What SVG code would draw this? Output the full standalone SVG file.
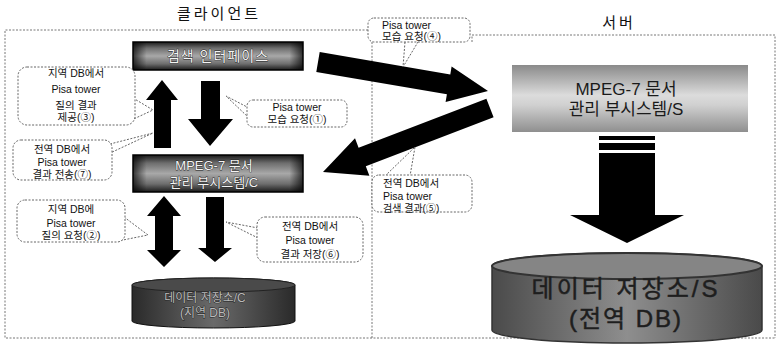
<svg xmlns="http://www.w3.org/2000/svg" width="777" height="349" viewBox="0 0 777 349">
<defs>
<linearGradient id="gBox" x1="0" y1="0" x2="0" y2="1">
<stop offset="0" stop-color="#1a1a1a"/><stop offset="0.22" stop-color="#6e6e6e"/><stop offset="0.5" stop-color="#a8a8a8"/><stop offset="0.78" stop-color="#6e6e6e"/><stop offset="1" stop-color="#1a1a1a"/>
</linearGradient>
<linearGradient id="gBoxH" x1="0" y1="0" x2="1" y2="0">
<stop offset="0" stop-color="#000" stop-opacity="0.7"/><stop offset="0.08" stop-color="#000" stop-opacity="0"/><stop offset="0.92" stop-color="#000" stop-opacity="0"/><stop offset="1" stop-color="#000" stop-opacity="0.7"/>
</linearGradient>
<linearGradient id="gSrv" x1="0" y1="0" x2="0" y2="1">
<stop offset="0" stop-color="#8a8a8a"/><stop offset="0.45" stop-color="#dcdcdc"/><stop offset="0.6" stop-color="#d0d0d0"/><stop offset="1" stop-color="#8f8f8f"/>
</linearGradient>
<linearGradient id="gCylC" x1="0" y1="0" x2="1" y2="0">
<stop offset="0" stop-color="#2a2a2a"/><stop offset="0.5" stop-color="#6a6a6a"/><stop offset="1" stop-color="#2a2a2a"/>
</linearGradient>
<linearGradient id="gCylS" x1="0" y1="0" x2="1" y2="0">
<stop offset="0" stop-color="#4a4a4a"/><stop offset="0.5" stop-color="#8e8e8e"/><stop offset="1" stop-color="#4a4a4a"/>
</linearGradient>
<style>
.bound{fill:none;stroke:#777;stroke-width:1;stroke-dasharray:2 1.5}
.co{fill:#fff;stroke:#666;stroke-width:1;stroke-dasharray:2 1.5}
.tail{fill:none;stroke:#666;stroke-width:1;stroke-dasharray:2 1.5}
.ct{font-family:"Liberation Sans","Noto Sans CJK KR",sans-serif;font-size:10.5px;fill:#111;text-anchor:middle}
.ctl{font-family:"Liberation Sans","Noto Sans CJK KR",sans-serif;font-size:10.5px;fill:#111}
.title{font-family:"Noto Sans CJK KR",sans-serif;font-size:15px;fill:#111;text-anchor:middle;letter-spacing:3px}
.bt{font-family:"Liberation Sans","Noto Sans CJK KR",sans-serif;font-size:13px;fill:#f4f4f4;stroke:#222;stroke-width:0.8;paint-order:stroke;text-anchor:middle}
.st{font-family:"Liberation Sans","Noto Sans CJK KR",sans-serif;font-size:17px;fill:#1a1a1a;text-anchor:middle}
.dt{font-family:"Liberation Sans","Noto Sans CJK KR",sans-serif;font-size:24px;fill:#1e1e1e;stroke:#1e1e1e;stroke-width:0.5;text-anchor:middle}
.arr{fill:#000}
</style>
</defs>
<rect width="777" height="349" fill="#fff"/>

<g id="boundaries">
<polyline class="bound" points="368,30 5,30 5,338 775,338"/>
<line class="bound" x1="372" y1="42" x2="372" y2="338"/>
<polyline class="bound" points="472,42 472,35 775,35 775,338"/>
</g>

<g id="titles">
<text class="title" x="219" y="19">클라이언트</text>
<text class="title" x="619" y="28">서버</text>
</g>

<g id="connectors">
<polygon class="arr" points="162,80 178,100 171,100 171,148 154,148 154,100 146,100"/>
<polygon class="arr" points="201,81 220,81 220,119 233,119 210,146 188,119 201,119"/>
<polygon class="arr" points="164,196 181,216 173,216 173,250 181,250 164,267 147,250 155,250 155,216 147,216"/>
<polygon class="arr" points="206,197 224,197 224,248 232,248 215,262 198,248 206,248"/>
<polygon class="arr" points="319.7,52.1 450.3,74.4 451.6,66.6 488,91 445.6,102 446.9,94.2 316.3,71.9"/>
<polygon class="arr" points="486.4,98.7 358.6,147.7 355,138.3 323,172 369.4,175.7 365.8,166.3 493.6,117.3"/>
<rect class="arr" x="599" y="136" width="56" height="4"/>
<rect class="arr" x="599" y="143" width="56" height="7"/>
<polygon class="arr" points="599,153 655,153 655,215 684,215 627,243 570,215 599,215"/>
</g>

<g id="node-search">
<rect x="133" y="42" width="170" height="28" fill="url(#gBox)" stroke="#000" stroke-width="1.5"/>
<rect x="133" y="42" width="170" height="28" fill="url(#gBoxH)"/>
<text class="bt" x="218" y="61" style="font-size:14px;letter-spacing:1px">검색 인터페이스</text>
</g>

<g id="node-mpeg-c">
<rect x="133" y="155" width="170" height="37" fill="url(#gBox)" stroke="#000" stroke-width="1.5"/>
<rect x="133" y="155" width="170" height="37" fill="url(#gBoxH)"/>
<text class="bt" x="214" y="170">MPEG-7 문서</text>
<text class="bt" x="214" y="187">관리 부시스템/C</text>
</g>

<g id="node-db-c">
<path d="M132,285 A81.5,7 0 0,1 295,285 L295,321 A81.5,7 0 0,1 132,321 Z" fill="url(#gCylC)" stroke="#111" stroke-width="1"/>
<ellipse cx="213.5" cy="285" rx="81.5" ry="7" fill="#4a4a4a" stroke="#222" stroke-width="1"/>
<text class="bt" x="205" y="302" style="font-size:12px;fill:#bbb">데이터 저장소/C</text>
<text class="bt" x="205" y="317" style="font-size:12px;fill:#bbb">(지역 DB)</text>
</g>

<g id="node-mpeg-s">
<rect x="512" y="65" width="236" height="67" fill="url(#gSrv)"/>
<text class="st" x="626" y="95">MPEG-7 문서</text>
<text class="st" x="626" y="115">관리 부시스템/S</text>
</g>

<g id="node-db-s">
<path d="M492,266 A135,13 0 0,1 762,266 L762,330 A135,13 0 0,1 492,330 Z" fill="url(#gCylS)" stroke="#333" stroke-width="1.5"/>
<ellipse cx="627" cy="266" rx="135" ry="13" fill="#858585" stroke="#333" stroke-width="2"/>
<text class="dt" x="626" y="297" style="letter-spacing:3px">데이터 저장소/S</text>
<text class="dt" x="626" y="327" style="letter-spacing:2px">(전역 DB)</text>
</g>

<g id="callout-3">
<polyline class="tail" points="133,98 153,110 125,123"/>
<rect class="co" x="18" y="67" width="117" height="58" rx="9"/>
<text class="ct" x="76" y="77">지역 DB에서</text>
<text class="ct" x="76" y="93">Pisa tower</text>
<text class="ct" x="76" y="109">질의 결과</text>
<text class="ct" x="76" y="121">제공(③)</text>
</g>

<g id="callout-7">
<polyline class="tail" points="110,144 153,133 108,154"/>
<rect class="co" x="13" y="140" width="99" height="40" rx="8"/>
<text class="ct" x="62" y="153">전역 DB에서</text>
<text class="ct" x="62" y="166">Pisa tower</text>
<text class="ct" x="62" y="178">결과 전송(⑦)</text>
</g>

<g id="callout-2">
<polyline class="tail" points="124,217 148,235 118,241"/>
<rect class="co" x="17" y="200" width="108" height="42" rx="8"/>
<text class="ct" x="71" y="213">지역 DB에</text>
<text class="ct" x="71" y="227">Pisa tower</text>
<text class="ct" x="71" y="239">질의 요청(②)</text>
</g>

<g id="callout-1">
<polyline class="tail" points="249,108 226,96 249,118"/>
<rect class="co" x="247" y="100" width="100" height="27" rx="6"/>
<text class="ct" x="297" y="111">Pisa tower</text>
<text class="ct" x="297" y="123">모습 요청(①)</text>
</g>

<g id="callout-4">
<polyline class="tail" points="405,42 403,67 418,42"/>
<rect class="co" x="368" y="18" width="102" height="24" rx="6"/>
<text class="ctl" x="382" y="29">Pisa tower</text>
<text class="ctl" x="382" y="40">모습 요청(④)</text>
</g>

<g id="callout-5">
<polyline class="tail" points="385,176 415,147 410,176"/>
<rect class="co" x="372" y="175" width="100" height="37" rx="7"/>
<text class="ctl" x="383" y="187">전역 DB에서</text>
<text class="ctl" x="383" y="200">Pisa tower</text>
<text class="ctl" x="383" y="212" style="font-size:10px">검색 결과(⑤)</text>
</g>

<g id="callout-6">
<polyline class="tail" points="258,228 226,222 258,238"/>
<rect class="co" x="257" y="217" width="106" height="45" rx="8"/>
<text class="ct" x="310" y="230">전역 DB에서</text>
<text class="ct" x="310" y="244">Pisa tower</text>
<text class="ct" x="310" y="258">결과 저장(⑥)</text>
</g>
</svg>
